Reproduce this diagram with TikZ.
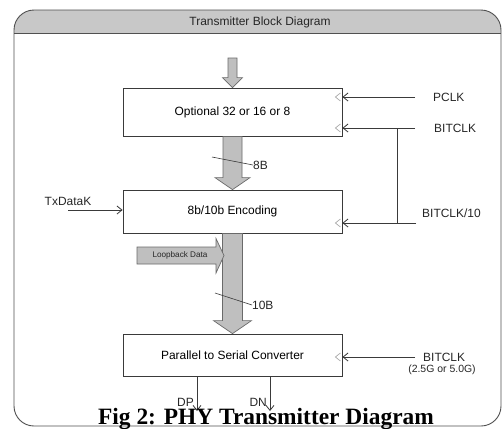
\documentclass[tikz,border=0pt]{standalone}
\usepackage{fontspec}
\setmainfont{Liberation Sans}
\newfontfamily\capfont{Liberation Serif}
\usetikzlibrary{arrows.meta,calc}
\definecolor{framec}{HTML}{505050}
\definecolor{hdr}{HTML}{C8C8C8}
\definecolor{arrfill}{HTML}{BFBFBF}
\definecolor{arrline}{HTML}{6A6A6A}
\definecolor{linec}{HTML}{3A3A3A}
\definecolor{markc}{HTML}{ABABAB}
% #1 start, #2 end, #3 shaft half width, #4 head half width, #5 head length
\newcommand{\fatarrow}[5]{%
  \filldraw[fatarr] ($(#1)+(-#3,0)$) -- ($(#2)+(-#3,-#5)$) -- ($(#2)+(-#4,-#5)$) -- (#2)
    -- ($(#2)+(#4,-#5)$) -- ($(#2)+(#3,-#5)$) -- ($(#1)+(#3,0)$) -- cycle;}
\newcommand{\clkmark}[1]{%
  \draw[markstyle] ($(#1)+(-2,-4)$) -- ++(-5,4) -- ++(5,4);}
\begin{document}
\begin{tikzpicture}[x=1bp,y=-1bp,
  font=\fontsize{12}{14}\selectfont,
  box/.style={draw=linec, line width=0.8bp, fill=white, minimum width=219bp, inner sep=0pt},
  fatarr/.style={fill=arrfill, draw=arrline, line width=0.7bp},
  markstyle/.style={draw=markc, line width=0.7bp},
  clk/.style={draw=linec, line width=0.8bp, -{Straight Barb[length=5bp,width=8bp]}},
  wire/.style={draw=linec, line width=0.8bp},
  lbl/.style={inner sep=0pt, text=black!85}]
\useasboundingbox (0,0) rectangle (502,428);
% frame
\fill[white, rounded corners=20bp] (14,10) rectangle (501,426);
\begin{scope}
  \clip (0,0) rectangle (502,33.5);
  \fill[hdr, rounded corners=20bp] (14,10) rectangle (501,426);
\end{scope}
\draw[framec, line width=0.9bp] (14,33.5) -- (501,33.5);
\draw[framec, line width=0.9bp, rounded corners=20bp] (14,10) rectangle (501,426);
\node[lbl] (title) at (260,22) {Transmitter Block Diagram};
% boxes
\node[box, minimum height=48bp] (b1) at (232.5,112) {Optional 32 or 16 or 8};
\node[box, minimum height=43bp] (b2) at (232.5,211.5) {8b/10b Encoding};
\node[box, minimum height=42bp] (b3) at (232.5,355) {Parallel to Serial Converter};
% big arrows
\coordinate (in) at (232.5,58);
\fatarrow{in}{b1.north}{4.5}{10}{10}
\fatarrow{b1.south}{b2.north}{9.5}{17.5}{12}
\fatarrow{b2.south}{b3.north}{10}{19}{13}
% bus width slashes
\node[lbl, anchor=west] (l8) at (253,165) {8B};
\coordinate (s8) at (212,157);
\draw[wire, line width=0.6bp] (s8) -- (l8.west);
\node[lbl, anchor=west] (l10) at (252,305) {10B};
\coordinate (s10) at (215,293);
\draw[wire, line width=0.6bp] (s10) -- (l10.west);
% loopback
\filldraw[fatarr] (137,247) -- (216,247) -- (216,238.5) -- (224,255.5) -- (216,273) -- (216,264) -- (137,264) -- cycle;
\node[lbl, font=\fontsize{8.2}{10}\selectfont] (lb) at (180,255) {Loopback Data};
% clocks box 1
\node[lbl, anchor=west] (pclk) at (433,97) {PCLK};
\coordinate (pcs) at (415,97);
\draw[clk] (pcs) -- (b1.east |- pcs);
\clkmark{b1.east |- pcs}
\node[lbl, anchor=west] (bclk) at (434,128) {BITCLK};
\coordinate (bcs) at (415,128);
\draw[clk] (bcs) -- (b1.east |- bcs);
\clkmark{b1.east |- bcs}
% BITCLK/10
\node[lbl, anchor=west] (bclk10) at (422,213) {BITCLK/10};
\coordinate (b10s) at (416,223);
\coordinate (vj) at (397,128);
\draw[wire] (vj) -- (vj |- b10s);
\draw[clk] (b10s) -- (b2.east |- b10s);
\clkmark{b2.east |- b10s}
% TxDataK
\node[lbl] (txk) at (68,201) {TxDataK};
\coordinate (txs) at (68,210);
\draw[clk] (txs) -- (b2.west |- txs);
% box 3 clock
\node[lbl, anchor=west] (bclk3) at (423,357) {BITCLK};
\node[lbl, font=\fontsize{10.5}{12}\selectfont] (rate) at (442,370) {(2.5G or 5.0G)};
\coordinate (b3s) at (415,357);
\draw[clk] (b3s) -- (b3.east |- b3s);
\clkmark{b3.east |- b3s}
% outputs
\coordinate (dpx) at (197,411);
\coordinate (dnx) at (270,411);
\draw[clk] (b3.south -| dpx) -- (dpx);
\draw[clk] (b3.south -| dnx) -- (dnx);
\node[lbl, anchor=east] (dp) at (194,402) {DP};
\node[lbl, anchor=east] (dn) at (267,402) {DN};
% caption
\node[inner sep=0pt, anchor=base, font=\capfont\bfseries\fontsize{23.5}{26}\selectfont] (cap) at (266,424) {Fig 2: PHY Transmitter Diagram};
\end{tikzpicture}
\end{document}
